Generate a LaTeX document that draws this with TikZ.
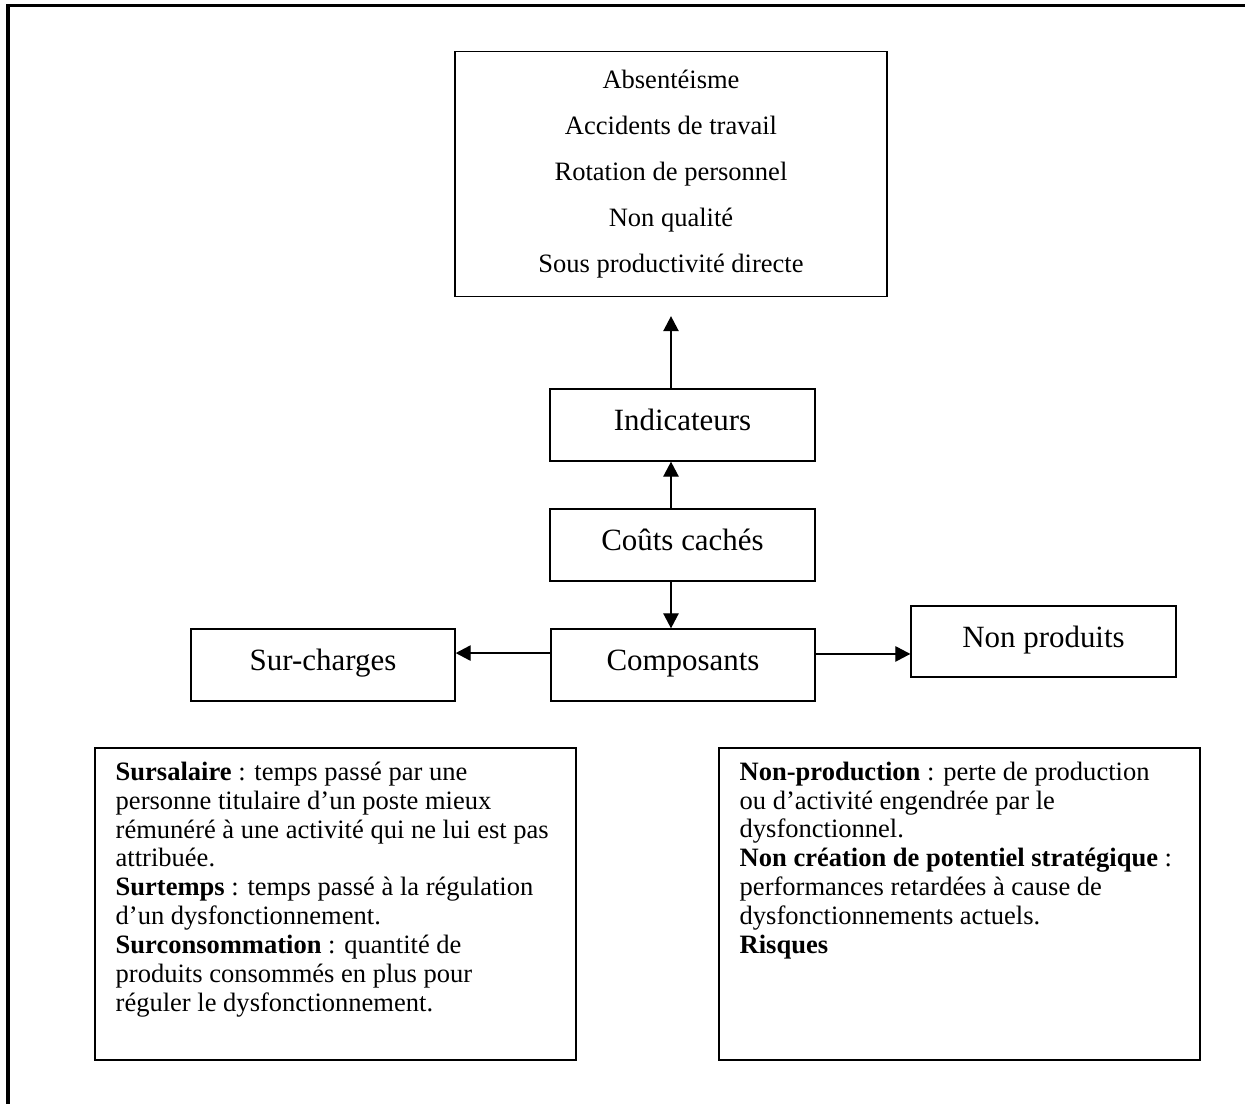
\documentclass[tikz,border=0pt]{standalone}
\usepackage{fontspec}
\setmainfont{Liberation Serif}
\usetikzlibrary{positioning, arrows.meta, calc}

\begin{document}
\begin{tikzpicture}[x=0.4525pt, y=-0.4525pt,
  mainbox/.style={rectangle, draw, line width=0.6pt, minimum width=119.9pt,
                  minimum height=32.6pt, inner sep=0pt, text height=9.6pt,
                  text depth=4.4pt, font=\fontsize{14}{16}\selectfont},
  listbox/.style={rectangle, draw, line width=0.6pt, minimum width=195.5pt,
                  minimum height=110.9pt, align=center,
                  font=\fontsize{12}{20.8}\selectfont},
  notebox/.style={rectangle, draw, line width=0.6pt, minimum width=217.7pt,
                  minimum height=141.2pt},
  notetext/.style={anchor=north west, inner sep=0pt, align=left,
                   font=\fontsize{12}{13.1}\selectfont},
  arr/.style={-{Triangle[length=6.8pt, width=7pt]}, line width=0.6pt}
]
\useasboundingbox (0,0) rectangle (1245,1104);
% cadre de la page
\begin{scope}
  \clip (0,0) rectangle (1245,1104);
  \draw[line width=1.36pt] (8,6) rectangle (1300,1150);
\end{scope}

\node[listbox] (top) at (671,174) {Absentéisme\\ Accidents de travail\\
  Rotation de personnel\\ Non qualité\\ Sous productivité directe};
\node[mainbox] (ind)   at (682.5,425) {Indicateurs};
\node[mainbox] (couts) at (682.5,545) {Coûts cachés};
\node[mainbox, minimum width=119.5pt] (comp)  at (683,665) {Composants};
\node[mainbox, minimum width=119.5pt] (surch) at (323,665) {Sur-charges};
\node[mainbox, minimum height=32.1pt] (nonp)  at (1043.5,641.5) {Non produits};

% encadres du bas
\node[notebox] (surb) at (335.5,904) {};
\node[notetext] (surt) at ([xshift=9.5pt, yshift=-6.3pt]surb.north west)
  {\textbf{Sursalaire} : temps passé par une\\
   personne titulaire d’un poste mieux\\
   rémunéré à une activité qui ne lui est pas\\
   attribuée.\\
   \textbf{Surtemps} : temps passé à la régulation\\
   d’un dysfonctionnement.\\
   \textbf{Surconsommation} : quantité de\\
   produits consommés en plus pour\\
   réguler le dysfonctionnement.};
\node[notebox] (nonb) at (959.5,904) {};
\node[notetext] (nont) at ([xshift=9.5pt, yshift=-6.3pt]nonb.north west)
  {\textbf{Non-production} : perte de production\\
   ou d’activité engendrée par le\\
   dysfonctionnel.\\
   \textbf{Non création de potentiel stratégique} :\\
   performances retardées à cause de\\
   dysfonctionnements actuels.\\
   \textbf{Risques}};

\draw[arr, shorten >=8.6pt] (ind.north -| top.south) -- (top.south);
\draw[arr] (couts.north -| top.south) -- (ind.south -| top.south);
\draw[arr] (couts.south -| top.south) -- (comp.north -| top.south);
\draw[arr] ([yshift=5.4pt]comp.west) -- ([yshift=5.4pt]comp.west -| surch.east);
\draw[arr] ([yshift=5pt]comp.east) -- ([yshift=5pt]comp.east -| nonp.west);
\end{tikzpicture}
\end{document}
